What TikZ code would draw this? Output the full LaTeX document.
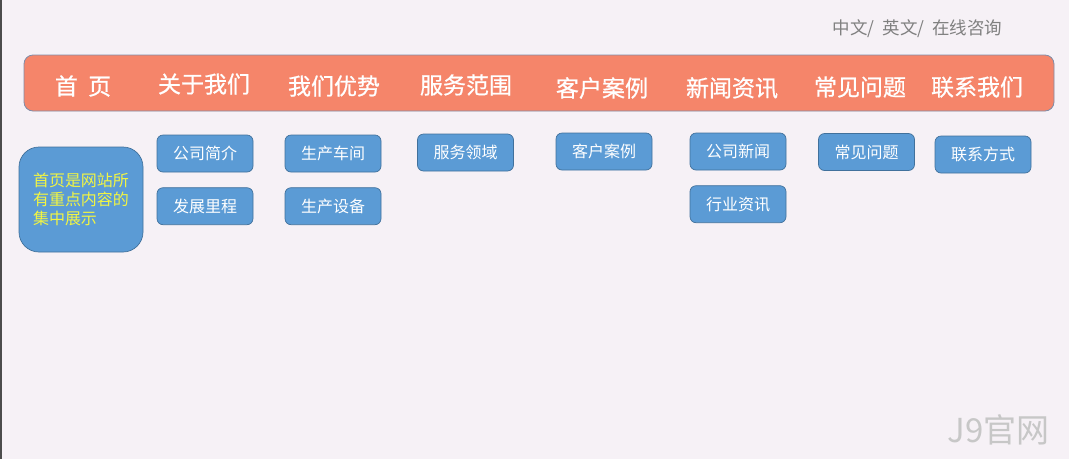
\documentclass[tikz,border=0pt]{standalone}
\usepackage{fontspec}
\setmainfont{Noto Sans CJK SC}
\newfontfamily\navfont[FakeBold=0.7]{Noto Sans CJK SC}
\usepackage{xcolor}
\usetikzlibrary{positioning}
\definecolor{pagebg}{HTML}{F6F1F6}
\definecolor{navfill}{HTML}{F5856A}
\definecolor{navline}{HTML}{7F8CA8}
\definecolor{boxfill}{HTML}{5B9BD5}
\definecolor{boxline}{HTML}{41719C}
\definecolor{introtext}{HTML}{F2F542}

\begin{document}
\begin{tikzpicture}[x=1pt,y=-1pt]

\tikzstyle{navbar} = [rectangle, rounded corners=9pt, draw=navline, fill=navfill, line width=0.8pt]
\tikzstyle{navitem} = [text=white, font=\navfont\fontsize{23}{23}\selectfont, inner sep=0pt]
\tikzstyle{subitem} = [rectangle, rounded corners=6pt, draw=boxline, fill=boxfill, line width=0.7pt, text=white, minimum width=96pt, minimum height=37pt, inner sep=0pt, font=\fontsize{16}{16}\selectfont]
\tikzstyle{intro} = [rectangle, rounded corners=20pt, draw=boxline, fill=boxfill, line width=0.7pt, text=introtext, minimum width=124pt, minimum height=105pt, inner sep=0pt, align=left, font=\fontsize{16}{19}\selectfont]

% page
\fill[pagebg] (0,0) rectangle (1069,459);
\useasboundingbox (0,0) rectangle (1069,459);
\draw[black!70, line width=1.5pt] (0.75,0) -- (0.75,459);

% language links
\node (lang) [text=black!50, font=\fontsize{17.5}{17.5}\selectfont, inner sep=0pt] at (917.5,29) {中文/\ \ 英文/\ \ 在线咨询};

% navigation bar
\node (nav) [navbar, minimum width=1030pt, minimum height=56pt] at (539,83) {};
\node (n1) [navitem] at (83,86) {首\ \ 页};
\node (n2) [navitem] at (204,84) {关于我们};
\node (n3) [navitem] at (334,86) {我们优势};
\node (n4) [navitem] at (466,85) {服务范围};
\node (n5) [navitem] at (602,88) {客户案例};
\node (n6) [navitem] at (732,88) {新闻资讯};
\node (n7) [navitem] at (860,87) {常见问题};
\node (n8) [navitem] at (977,87) {联系我们};

% sub menus
\node (home) [intro] at (81,199.5) {首页是网站所\\有重点内容的\\集中展示};
\node (s21) [subitem] at (205,153.5) {公司简介};
\node (s22) [subitem, below=15pt of s21] {发展里程};
\node (s31) [subitem] at (333,153.5) {生产车间};
\node (s32) [subitem, below=15pt of s31] {生产设备};
\node (s41) [subitem] at (465.5,152.5) {服务领域};
\node (s51) [subitem] at (604,151.5) {客户案例};
\node (s61) [subitem] at (738,151.5) {公司新闻};
\node (s62) [subitem, below=15pt of s61] {行业资讯};
\node (s71) [subitem] at (866.5,152) {常见问题};
\node (s81) [subitem] at (983,154.5) {联系方式};

% watermark
\node (mark) [text=black!22, font=\fontsize{33}{33}\selectfont, inner sep=0pt] at (998.5,430) {J9官网};

\end{tikzpicture}
\end{document}
